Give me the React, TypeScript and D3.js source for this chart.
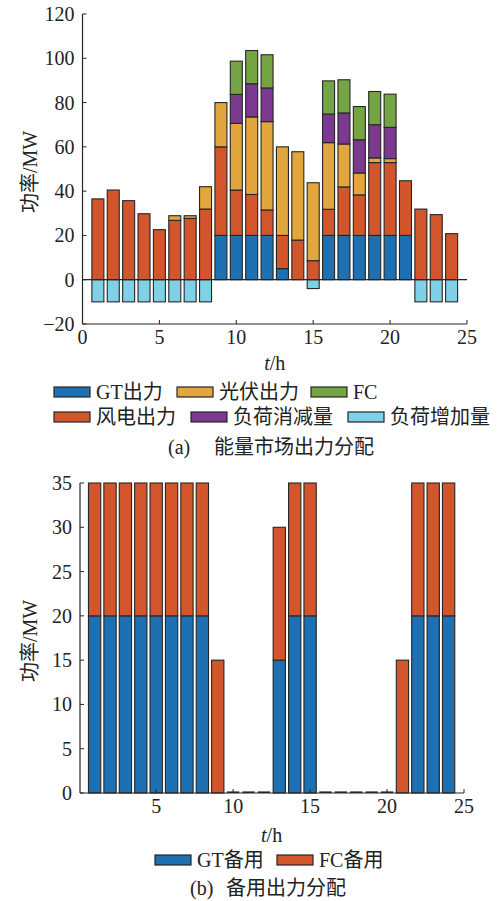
import React from "react";
import * as d3 from "d3";

const hours = d3.range(1, 25);
const gtOut = [0,0,0,0,0,0,0,0,20,20,20,20,5,0,0,20,20,20,20,20,20,0,0,0];
const windOut = [36.5,40.5,35.7,29.8,22.6,26.8,27.7,31.9,40,20.5,18.5,11.5,15,17.9,8.6,11.8,21.9,18.3,32.9,32.9,24.7,31.9,29.4,20.8];
const pvOut = [0,0,0,0,0,2.1,1.2,10.1,20,30.1,35,39.9,40,39.9,35.2,30.1,19.4,9.9,2.1,1.8,0,0,0,0];
const loadCut = [0,0,0,0,0,0,0,0,0,13.1,15,15.2,0,0,0,12.9,14,15,15,14.1,0,0,0,0];
const fcOut = [0,0,0,0,0,0,0,0,0,15,15,15,0,0,0,15,15,15,15,15,0,0,0,0];
const loadAdd = [-10,-10,-10,-10,-10,-10,-10,-10,0,0,0,0,0,0,-4,0,0,0,0,0,0,-10,-10,-10];

const gtReserve = [20,20,20,20,20,20,20,20,0,0,0,0,15,20,20,0,0,0,0,0,0,20,20,20];
const fcReserve = [15,15,15,15,15,15,15,15,15,0,0,0,15,15,15,0,0,0,0,0,15,15,15,15];

const xTicks = [0, 5, 10, 15, 20, 25];
const yTicksA = [-20, 0, 20, 40, 60, 80, 100, 120];
const yTicksB = [0, 5, 10, 15, 20, 25, 30, 35];

const C = {
  gt: "#1d70b2",
  wind: "#d2552c",
  pv: "#e2a63c",
  fc: "#74a443",
  cut: "#7b3990",
  add: "#80d0e8",
};

const FONT = "'Liberation Serif', 'Times New Roman', 'Noto Sans CJK SC', serif";
const STROKE = "#262626";
const FS = 20;

function Axes({ x, y, xTickVals, yTickVals, showX0 }: any) {
  const [x0, x1] = x.range();
  const [yb, yt] = y.range();
  return (
    <g>
      <line x1={x0} x2={x0} y1={yb} y2={yt} stroke={STROKE} strokeWidth={1.2} />
      <line x1={x0} x2={x1} y1={yb} y2={yb} stroke={STROKE} strokeWidth={1.2} />
      {yTickVals.map((v: number) => (
        <g key={"y" + v}>
          <line x1={x0} x2={x0 + 4} y1={y(v)} y2={y(v)} stroke={STROKE} />
          <text x={x0 - 8} y={y(v)} dy="0.35em" textAnchor="end" fontSize={FS} fontFamily={FONT} fill="#222">
            {v < 0 ? "\u2212" + Math.abs(v) : v}
          </text>
        </g>
      ))}
      {xTickVals.map((v: number) => (
        <g key={"x" + v}>
          <line x1={x(v)} x2={x(v)} y1={yb} y2={yb - 4} stroke={STROKE} />
          {(showX0 || v !== 0) && (
            <text x={x(v)} y={yb + 20} textAnchor="middle" fontSize={FS} fontFamily={FONT} fill="#222">
              {v}
            </text>
          )}
        </g>
      ))}
    </g>
  );
}

function Legend({ items, y }: any) {
  return (
    <g>
      {items.map((it: any, i: number) => (
        <g key={i}>
          <rect x={it.x} y={y - 5} width={36} height={10} fill={it.color} stroke={STROKE} strokeWidth={1.2} />
          <text x={it.x + 42} y={y} dy="0.36em" fontSize={FS} fontFamily={FONT} fill="#222">
            {it.label}
          </text>
        </g>
      ))}
    </g>
  );
}

export default function App() {
  // Chart (a)
  const xA = d3.scaleLinear().domain([0, 25]).range([82.5, 467]);
  const yA = d3.scaleLinear().domain([-20, 120]).range([324, 14]);
  const bw = (xA(1) - xA(0)) * 0.78;

  const posSeries = [
    { vals: gtOut, color: C.gt },
    { vals: windOut, color: C.wind },
    { vals: pvOut, color: C.pv },
    { vals: loadCut, color: C.cut },
    { vals: fcOut, color: C.fc },
  ];

  const rectsA: any[] = [];
  hours.forEach((h, i) => {
    let base = 0;
    posSeries.forEach((s, si) => {
      const v = s.vals[i];
      if (v > 0) {
        rectsA.push({ key: `a${si}-${h}`, x: xA(h) - bw / 2, y: yA(base + v), h: yA(base) - yA(base + v), color: s.color });
      }
      base += v;
    });
    if (loadAdd[i] < 0) {
      rectsA.push({ key: `an-${h}`, x: xA(h) - bw / 2, y: yA(0), h: yA(loadAdd[i]) - yA(0), color: C.add });
    }
  });

  // Chart (b)
  const xB = d3.scaleLinear().domain([0.05, 25]).range([80, 464]);
  const yB = d3.scaleLinear().domain([0, 35]).range([793, 483]);
  const bwB = (xB(1) - xB(0)) * 0.8;
  const rectsB: any[] = [];
  const zeroB: number[] = [];
  hours.forEach((h, i) => {
    const g = gtReserve[i];
    const f = fcReserve[i];
    if (g + f === 0) zeroB.push(h);
    if (g > 0) rectsB.push({ key: `bg-${h}`, x: xB(h) - bwB / 2, y: yB(g), h: yB(0) - yB(g), color: C.gt });
    if (f > 0) rectsB.push({ key: `bf-${h}`, x: xB(h) - bwB / 2, y: yB(g + f), h: yB(g) - yB(g + f), color: C.wind });
  });

  return (
    <svg width={501} height={901} style={{ display: "block", position: "absolute", left: 0, top: 0 }}>
      <rect x={0} y={0} width={501} height={901} fill="#fff" />
      {/* Chart (a) */}
      {rectsA.map((r) => (
        <rect key={r.key} x={r.x} y={r.y} width={bw} height={Math.max(r.h, 0)} fill={r.color} stroke={STROKE} strokeWidth={1.1} />
      ))}
      <line x1={xA(0)} x2={xA(25)} y1={yA(0)} y2={yA(0)} stroke={STROKE} strokeWidth={1.2} />
      <Axes x={xA} y={yA} xTickVals={xTicks} yTickVals={yTicksA} showX0={true} />
      <text transform={`translate(30,172) rotate(-90)`} textAnchor="middle" dy="0.35em" fontSize={FS} fontFamily={FONT} fill="#222">
        功率/MW
      </text>
      <text x={xA(12.5)} y={370} textAnchor="middle" fontSize={FS} fontFamily={FONT} fill="#222">
        <tspan fontStyle="italic">t</tspan>/h
      </text>
      <Legend
        y={392}
        items={[
          { x: 54, label: "GT出力", color: C.gt },
          { x: 177, label: "光伏出力", color: C.pv },
          { x: 311, label: "FC", color: C.fc },
        ]}
      />
      <Legend
        y={417}
        items={[
          { x: 54, label: "风电出力", color: C.wind },
          { x: 191, label: "负荷消减量", color: C.cut },
          { x: 348, label: "负荷增加量", color: C.add },
        ]}
      />
      <text x={168} y={447} dy="0.36em" fontSize={FS} fontFamily={FONT} fill="#222" style={{ whiteSpace: "pre" }}>
        (a)
      </text>
      <text x={214} y={447} dy="0.36em" fontSize={FS} fontFamily={FONT} fill="#222">
        能量市场出力分配
      </text>

      {/* Chart (b) */}
      {rectsB.map((r) => (
        <rect key={r.key} x={r.x} y={r.y} width={bwB} height={Math.max(r.h, 0)} fill={r.color} stroke={STROKE} strokeWidth={1.1} />
      ))}
      {zeroB.map((h) => (
        <line key={"z" + h} x1={xB(h) - bwB / 2} x2={xB(h) + bwB / 2} y1={yB(0) - 0.8} y2={yB(0) - 0.8} stroke={STROKE} strokeWidth={1.6} />
      ))}
      <Axes x={xB} y={yB} xTickVals={[5, 10, 15, 20, 25]} yTickVals={yTicksB} showX0={false} />
      <text transform={`translate(30,641) rotate(-90)`} textAnchor="middle" dy="0.35em" fontSize={FS} fontFamily={FONT} fill="#222">
        功率/MW
      </text>
      <text x={xB(12.5)} y={842} textAnchor="middle" fontSize={FS} fontFamily={FONT} fill="#222">
        <tspan fontStyle="italic">t</tspan>/h
      </text>
      <Legend
        y={860}
        items={[
          { x: 155, label: "GT备用", color: C.gt },
          { x: 277, label: "FC备用", color: C.wind },
        ]}
      />
      <text x={190} y={888} dy="0.36em" fontSize={FS} fontFamily={FONT} fill="#222">
        (b)
      </text>
      <text x={226} y={888} dy="0.36em" fontSize={FS} fontFamily={FONT} fill="#222">
        备用出力分配
      </text>
    </svg>
  );
}
